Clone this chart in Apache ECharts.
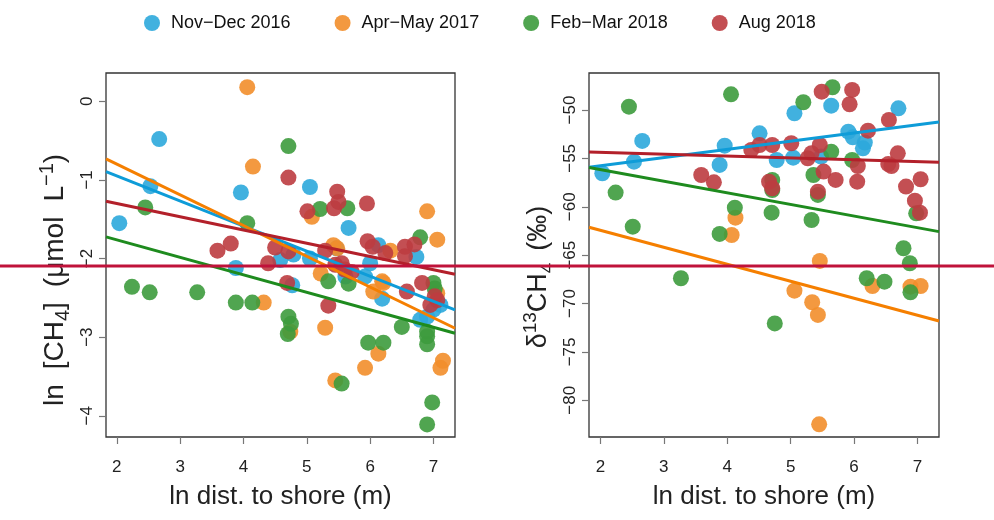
<!DOCTYPE html>
<html>
<head>
<meta charset="utf-8">
<script src="https://cdn.jsdelivr.net/npm/echarts@6/dist/echarts.min.js"></script>
<style>
html,body{margin:0;padding:0;background:#fff;}
#chart{width:994px;height:520px;}
</style>
</head>
<body>
<div id="chart"></div>
<script>
// ---------- data ----------
const groupNames = ['Nov\u2212Dec 2016', 'Apr\u2212May 2017', 'Feb\u2212Mar 2018', 'Aug 2018'];

// Left panel: ln dist. to shore vs ln [CH4]
const nd16CH4 = [[2.04,-1.55],[2.53,-1.08],[2.67,-0.48],[3.88,-2.12],[3.96,-1.16],[4.58,-2.02],[4.79,-1.95],[4.77,-2.34],[5.05,-1.09],[5.05,-2.0],[5.47,-1.87],[5.61,-2.23],[5.66,-1.61],[5.92,-2.23],[6.0,-2.06],[6.13,-1.83],[6.19,-2.51],[6.73,-1.98],[6.79,-2.78],[6.90,-2.74],[7.11,-2.59],[7.0,-2.65]];
const am17CH4 = [[4.06,0.18],[4.15,-0.83],[4.32,-2.56],[4.74,-2.93],[5.29,-2.88],[5.45,-3.55],[5.92,-3.39],[6.13,-3.21],[7.11,-3.39],[7.15,-3.30],[6.90,-1.40],[7.06,-1.76],[5.08,-1.47],[5.42,-1.83],[5.48,-1.87],[6.32,-1.90],[5.22,-2.19],[6.19,-2.29],[6.05,-2.42],[6.21,-2.31],[7.06,-2.44]];
const fm18CH4 = [[2.45,-1.35],[2.24,-2.36],[2.52,-2.43],[3.27,-2.43],[3.88,-2.56],[4.14,-2.56],[4.06,-1.55],[4.71,-0.57],[5.21,-1.37],[5.64,-1.36],[6.79,-1.73],[7.0,-2.31],[4.71,-2.74],[4.75,-2.83],[4.70,-2.96],[5.34,-2.29],[5.66,-2.32],[5.97,-3.07],[6.21,-3.07],[6.50,-2.87],[5.55,-3.59],[6.90,-2.93],[6.90,-2.99],[6.90,-3.09],[6.98,-3.83],[6.90,-4.11],[7.02,-2.38]];
const au18CH4 = [[3.59,-1.90],[3.80,-1.81],[4.39,-2.06],[4.50,-1.86],[4.71,-0.97],[4.71,-1.91],[4.69,-2.31],[5.01,-1.40],[5.29,-1.90],[5.34,-2.60],[5.43,-1.36],[5.48,-1.15],[5.50,-1.28],[5.55,-2.06],[5.71,-2.17],[5.95,-1.30],[5.96,-1.78],[6.04,-1.85],[6.24,-1.93],[6.55,-1.85],[6.55,-1.97],[6.70,-1.82],[6.58,-2.42],[6.82,-2.31],[6.95,-2.59],[7.06,-2.53],[7.02,-2.48],[5.45,-2.08],[5.60,-2.14]];

// Left panel fitted lines (endpoints)
const nd16FitCH4 = [[1.83,-0.894],[7.34,-2.654]];
const am17FitCH4 = [[1.83,-0.732],[7.34,-2.887]];
const fm18FitCH4 = [[1.83,-1.725],[7.34,-2.951]];
const au18FitCH4 = [[1.83,-1.271],[7.34,-2.200]];

// Right panel: ln dist. to shore vs d13CH4
const nd16D13 = [[2.03,-56.54],[2.53,-55.34],[2.66,-53.20],[3.88,-55.68],[3.96,-53.69],[4.51,-52.41],[4.78,-55.17],[5.04,-54.93],[5.06,-50.34],[5.48,-54.82],[5.64,-49.56],[5.91,-52.24],[5.98,-52.83],[6.17,-53.37],[6.14,-53.96],[6.70,-49.83]];
const am17D13 = [[4.13,-61.13],[4.07,-62.92],[5.46,-65.60],[5.06,-68.67],[5.34,-69.87],[5.43,-71.18],[6.29,-68.19],[6.89,-68.26],[7.05,-68.19],[5.45,-82.48]];
const fm18D13 = [[2.24,-58.54],[2.45,-49.66],[2.51,-62.06],[3.27,-67.39],[3.88,-62.81],[4.06,-48.38],[4.12,-60.10],[4.70,-60.61],[4.71,-57.23],[4.71,-58.27],[4.75,-72.05],[5.20,-49.20],[5.33,-61.37],[5.36,-56.72],[5.43,-58.78],[5.64,-54.31],[5.66,-47.65],[5.97,-55.17],[6.20,-67.39],[6.48,-67.74],[6.78,-64.29],[6.88,-65.84],[6.89,-68.84],[6.98,-60.68]];
const au18D13 = [[3.59,-56.72],[3.79,-57.48],[4.38,-54.13],[4.51,-53.62],[4.66,-57.41],[4.71,-53.62],[4.71,-58.09],[5.01,-53.44],[5.27,-54.99],[5.33,-54.47],[5.46,-53.62],[5.43,-58.44],[5.49,-48.11],[5.52,-56.37],[5.71,-57.23],[5.93,-49.41],[5.97,-47.93],[6.05,-57.41],[6.06,-55.79],[6.22,-52.14],[6.55,-51.03],[6.54,-55.58],[6.59,-55.79],[6.69,-54.48],[6.82,-57.92],[6.96,-59.37],[7.04,-60.61],[7.05,-57.16]];

// Right panel fitted lines
const nd16FitD13 = [[1.82,-55.92],[7.34,-51.24]];
const am17FitD13 = [[1.82,-62.12],[7.34,-71.80]];
const fm18FitD13 = [[1.82,-55.95],[7.34,-62.57]];
const au18FitD13 = [[1.82,-54.34],[7.34,-55.41]];

// tick labels
const xTicks = [2,3,4,5,6,7];
const yTicksCH4 = [0,-1,-2,-3,-4];
const yTicksD13 = [-50,-55,-60,-65,-70,-75,-80];

// ---------- styling ----------
const pointColors = ['#2CA9DC','#F28E2B','#3D9B3D','#BD3C40'];
const lineColors = ['#0E9CD8','#F57F00','#1E8B1E','#B3202A'];
const FONT = '"Liberation Sans", Arial, Helvetica, sans-serif';
const minus = v => String(v).replace('-', '\u2212');

function makeRich(fs, ss, sp) {
  return {
    t: {fontFamily: FONT, fontSize: fs, color: '#222', lineHeight: 36, verticalAlign: 'middle'},
    sp: {fontFamily: FONT, fontSize: fs, color: '#222', lineHeight: 36, width: sp},
    sub: {fontFamily: FONT, fontSize: ss, color: '#222', lineHeight: 36, verticalAlign: 'bottom'},
    sup: {fontFamily: FONT, fontSize: ss, color: '#222', lineHeight: 36, verticalAlign: 'top'}
  };
}

function xAxisDef(idx) {
  return {
    gridIndex: idx, type: 'value', min: idx === 0 ? 1.83 : 1.82, max: 7.34,
    name: 'ln dist. to shore (m)', nameLocation: 'middle', nameGap: 47,
    nameTextStyle: {fontFamily: FONT, fontSize: 26, color: '#222'},
    axisLine: {show: false, onZero: false},
    axisTick: {show: true, length: 7, inside: false, customValues: xTicks, lineStyle: {color: '#777', width: 1.2}},
    axisLabel: {customValues: xTicks, margin: 22, fontFamily: FONT, fontSize: 17, color: '#222', formatter: minus},
    splitLine: {show: false}
  };
}
function yAxisDef(idx, min, max, ticks, name, gap, shift, rich) {
  return {
    gridIndex: idx, type: 'value', min: min, max: max,
    name: name, nameLocation: 'middle', nameGap: gap, nameRotate: 90,
    nameTextStyle: {fontFamily: FONT, fontSize: 27, color: '#222', rich: rich, padding: [0, shift, 0, 0]},
    axisLine: {show: false, onZero: false},
    axisTick: {show: true, length: 7, customValues: ticks, lineStyle: {color: '#777', width: 1.2}},
    axisLabel: {customValues: ticks, rotate: 90, margin: 10, fontFamily: FONT, fontSize: 17, color: '#222', formatter: minus},
    splitLine: {show: false}
  };
}

const pointSets = [[nd16CH4, am17CH4, fm18CH4, au18CH4],[nd16D13, am17D13, fm18D13, au18D13]];
const fitSets = [[nd16FitCH4, am17FitCH4, fm18FitCH4, au18FitCH4],[nd16FitD13, am17FitD13, fm18FitD13, au18FitD13]];

const series = [];
for (let p = 0; p < 2; p++) {
  for (let g = 0; g < 4; g++) {
    series.push({
      name: groupNames[g], type: 'scatter', xAxisIndex: p, yAxisIndex: p,
      data: pointSets[p][g], symbol: 'circle', symbolSize: 16, z: 2 + g,
      itemStyle: {color: pointColors[g], opacity: 0.9},
      emphasis: {disabled: true}
    });
  }
  for (let g = 0; g < 4; g++) {
    series.push({
      name: 'fit ' + groupNames[g], type: 'line', xAxisIndex: p, yAxisIndex: p,
      data: fitSets[p][g], showSymbol: false, symbol: 'none', z: 10,
      lineStyle: {color: lineColors[g], width: 3}, silent: true
    });
  }
}

const chart = echarts.init(document.getElementById('chart'), null, {renderer: 'canvas'});
chart.setOption({
  animation: false,
  backgroundColor: '#fff',
  legend: {
    data: groupNames.map((n, i) => ({name: n, icon: 'circle', itemStyle: {color: pointColors[i]}})),
    top: 9, left: 139, itemWidth: 16, itemHeight: 16, itemGap: 44,
    textStyle: {fontFamily: FONT, fontSize: 18, color: '#111', padding: [0, 0, 0, 6]},
    selectedMode: false
  },
  grid: [
    {left: 106, top: 73, width: 349, height: 364, show: true, borderColor: '#333', borderWidth: 1.3, backgroundColor: 'transparent'},
    {left: 589, top: 73, width: 350, height: 364, show: true, borderColor: '#333', borderWidth: 1.3, backgroundColor: 'transparent'}
  ],
  xAxis: [xAxisDef(0), xAxisDef(1)],
  yAxis: [
    yAxisDef(0, -4.27, 0.36, yTicksCH4, '{t|ln}{sp| }{t|[CH}{sub|4}{t|]}{sp| }{t|(\u03bcmol}{sp| }{t|L}{sup|\u22121}{t|)}', 33, 50, makeRich(28, 20, 15)),
    yAxisDef(1, -83.79, -46.18, yTicksD13, '{t|\u03b4}{sup|13}{t|CH}{sub|4}{sp| }{t|(\u2030)}', 32, 44, makeRich(27, 19, 12))
  ],
  series: series,
  graphic: [{
    type: 'line', z: 100, silent: true,
    shape: {x1: 0, y1: 266, x2: 994, y2: 266},
    style: {stroke: '#C0123A', lineWidth: 3}
  }]
});
</script>
</body>
</html>
